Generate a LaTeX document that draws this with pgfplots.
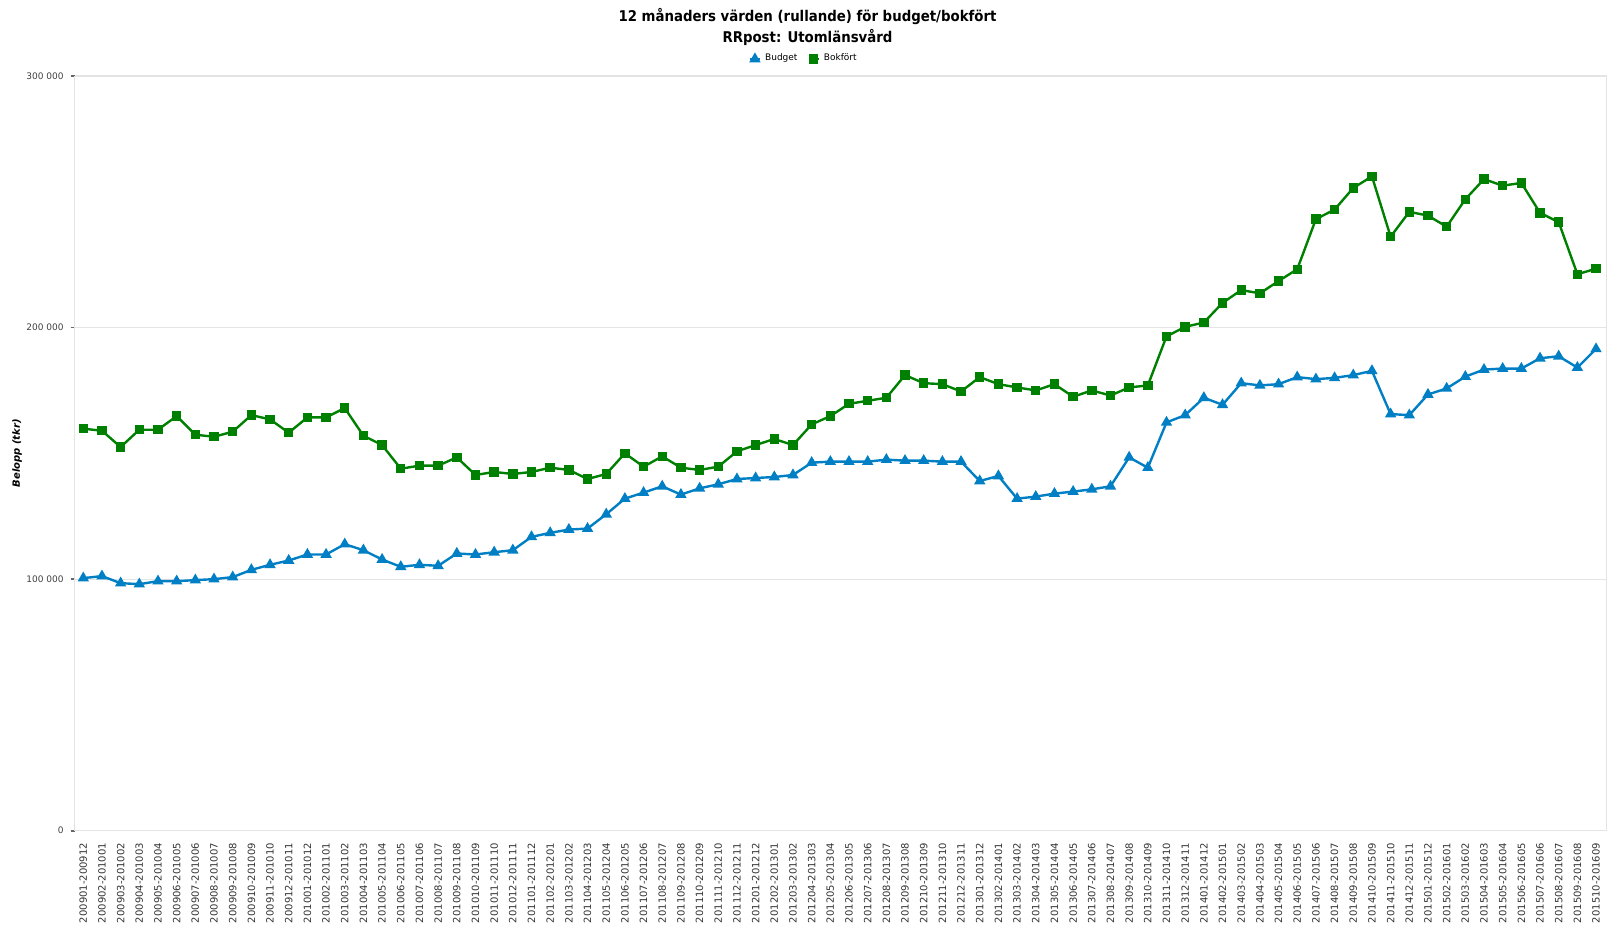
\documentclass[border=0pt]{standalone}
\usepackage{pgfplots}
\usepackage{pgfplotstable}
\pgfplotsset{compat=1.18}
\usepackage{fontspec}
\setmainfont{DejaVu Sans}
\newfontfamily\condfont{DejaVu Sans Condensed}
\definecolor{budgetblue}{RGB}{0,127,196}
\definecolor{bokgreen}{RGB}{0,128,0}
\definecolor{gridgray}{RGB}{228,228,228}

\pgfplotstableread{
x y
0 100.4
1 101.2
2 98.4
3 98.0
4 99.2
5 99.2
6 99.6
7 100.0
8 100.8
9 103.7
10 105.7
11 107.4
12 109.8
13 109.8
14 113.9
15 111.5
16 107.8
17 104.9
18 105.7
19 105.3
20 110.2
21 109.8
22 110.7
23 111.5
24 116.8
25 118.4
26 119.7
27 120.1
28 125.8
29 132.0
30 134.4
31 136.9
32 133.6
33 136.1
34 137.7
35 139.8
36 140.2
37 140.6
38 141.4
39 146.3
40 146.7
41 146.7
42 146.7
43 147.5
44 147.1
45 147.1
46 146.7
47 146.7
48 139.0
49 141.0
50 132.0
51 132.8
52 134.0
53 134.8
54 135.7
55 136.9
56 148.4
57 144.3
58 162.3
59 165.2
60 172.1
61 169.3
62 177.9
63 177.0
64 177.5
65 180.3
66 179.5
67 180.0
68 181.1
69 182.8
70 165.6
71 165.2
72 173.4
73 175.8
74 180.5
75 183.3
76 183.7
77 183.7
78 187.8
79 188.6
80 184.1
81 191.5
}\budget

\pgfplotstableread{
x y
0 159.8
1 159.0
2 152.5
3 159.4
4 159.4
5 164.8
6 157.4
7 156.6
8 158.6
9 165.2
10 163.5
11 158.2
12 164.3
13 164.3
14 168.0
15 157.0
16 153.3
17 143.9
18 145.1
19 145.1
20 148.4
21 141.4
22 142.6
23 141.8
24 142.6
25 144.3
26 143.4
27 139.8
28 141.8
29 150.0
30 144.7
31 148.8
32 144.3
33 143.4
34 144.7
35 150.8
36 153.3
37 155.7
38 153.3
39 161.5
40 164.8
41 169.7
42 170.9
43 172.1
44 181.1
45 177.9
46 177.5
47 174.6
48 180.3
49 177.5
50 176.2
51 175.0
52 177.5
53 172.5
54 175.0
55 173.0
56 176.2
57 177.0
58 196.5
59 200.3
60 202.0
61 209.8
62 214.9
63 213.6
64 218.5
65 223.2
66 243.1
67 246.9
68 255.5
69 260.1
70 236.1
71 246.0
72 244.5
73 240.1
74 251.0
75 259.0
76 256.4
77 257.5
78 245.6
79 241.9
80 221.2
81 223.4
}\bokfort

\begin{document}
\begin{tikzpicture}
\begin{axis}[
  scale only axis,
  width=766bp, height=377.35bp,
  xmin=-0.46, xmax=81.57,
  ymin=0, ymax=300000,
  scaled y ticks=false,
  axis line style={gridgray},
  ymajorgrids=true,
  grid style={gridgray, line width=0.5bp},
  ytick={0,100000,200000,300000},
  yticklabels={0,100 000,200 000,300 000},
  yticklabel style={font=\fontsize{4.5bp}{5bp}\selectfont, text=black!75},
  ytick style={black!60, line width=0.8bp},
  ytick pos=left,
  tick align=outside,
  major tick length=2bp,
  xtick={0,...,81},
  xtick style={draw=none},
  xticklabels={200901-200912,200902-201001,200903-201002,200904-201003,200905-201004,200906-201005,200907-201006,200908-201007,200909-201008,200910-201009,200911-201010,200912-201011,201001-201012,201002-201101,201003-201102,201004-201103,201005-201104,201006-201105,201007-201106,201008-201107,201009-201108,201010-201109,201011-201110,201012-201111,201101-201112,201102-201201,201103-201202,201104-201203,201105-201204,201106-201205,201107-201206,201108-201207,201109-201208,201110-201209,201111-201210,201112-201211,201201-201212,201202-201301,201203-201302,201204-201303,201205-201304,201206-201305,201207-201306,201208-201307,201209-201308,201210-201309,201211-201310,201212-201311,201301-201312,201302-201401,201303-201402,201304-201403,201305-201404,201306-201405,201307-201406,201308-201407,201309-201408,201310-201409,201311-201410,201312-201411,201401-201412,201402-201501,201403-201502,201404-201503,201405-201504,201406-201505,201407-201506,201408-201507,201409-201508,201410-201509,201411-201510,201412-201511,201501-201512,201502-201601,201503-201602,201504-201603,201505-201604,201506-201605,201507-201606,201508-201607,201509-201608,201510-201609},
  xticklabel style={rotate=90, anchor=east, font=\fontsize{5bp}{5.5bp}\selectfont, text=black!80, inner sep=0pt, xshift=-4bp},
  /pgf/number format/assume math mode=true,
  ylabel={\textbf{\textit{Belopp (tkr)}}},
  ylabel style={at={(axis description cs:-0.0375,0.5)}, anchor=center, rotate=0, font=\fontsize{5bp}{6bp}\selectfont},
  legend style={at={(0.4765,1.0225)}, anchor=center, draw=none, fill=none, legend columns=2,
     font=\fontsize{4.5bp}{5bp}\selectfont, /tikz/every even column/.append style={column sep=3bp}},
  legend image code/.code={\draw[#1] (0bp,0bp) -- (5bp,0bp); \draw[#1, mark repeat=2, mark phase=2] plot coordinates {(0bp,0bp)(2.5bp,0bp)(5bp,0bp)};},
  clip=false,
]
\addplot[budgetblue, line width=1.2bp, mark=triangle*, mark size=2.1bp, mark options={solid}]
  table[x=x, y expr=\thisrow{y}*1000] {\budget};
\addlegendentry{Budget}
\addplot[bokgreen, line width=1.2bp, mark=square*, mark size=1.75bp, mark options={solid}]
  table[x=x, y expr=\thisrow{y}*1000] {\bokfort};
\addlegendentry{Bokfört}
\draw[gridgray, line width=0.5bp] (rel axis cs:1,0) -- (rel axis cs:1,1);
\draw[gridgray, line width=0.5bp] (rel axis cs:0,1) -- (rel axis cs:1,1);
\end{axis}
\node[font=\condfont\bfseries\fontsize{7.4bp}{9bp}\selectfont] at (366.4bp,407.3bp) {12 månaders värden (rullande) för budget/bokfört};
\node[font=\condfont\bfseries\fontsize{7.4bp}{9bp}\selectfont] at (366.4bp,396.5bp) {RRpost: Utomlänsvård};
\pgfresetboundingbox
\useasboundingbox (-37.35bp,-48.15bp) rectangle (770.65bp,415.35bp);
\end{tikzpicture}
\end{document}
